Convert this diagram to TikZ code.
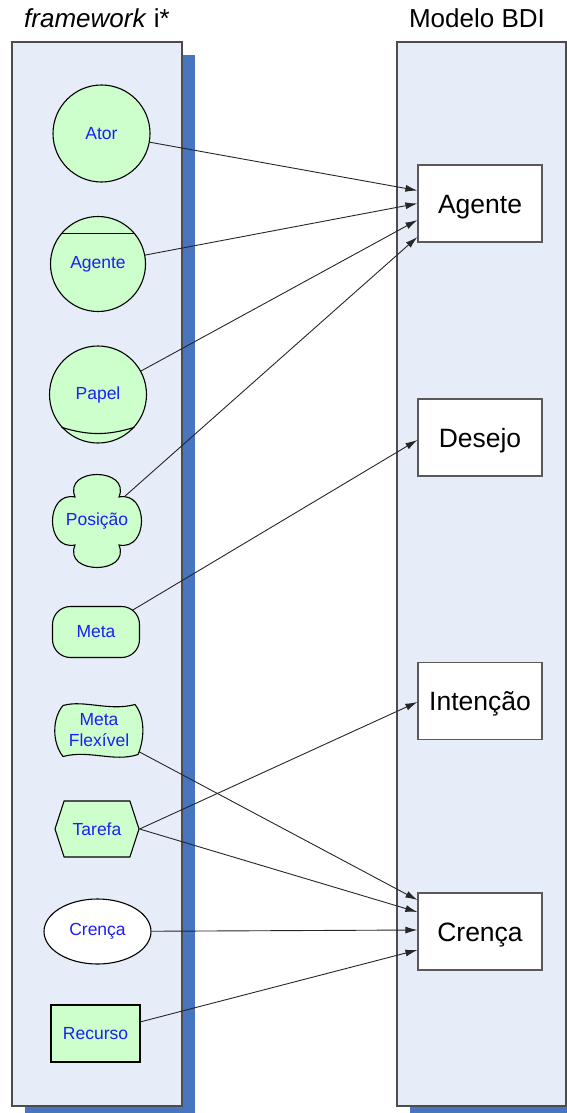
\documentclass[tikz,border=0pt]{standalone}
\usepackage{fontspec}
\setmainfont{Liberation Sans}
\usetikzlibrary{shapes.geometric,shapes.symbols,arrows.meta}
\definecolor{fundoPainel}{RGB}{230,236,248}
\definecolor{sombraAzul}{RGB}{71,117,192}
\definecolor{verdeIstar}{RGB}{204,255,204}
\definecolor{azulIstar}{RGB}{30,30,245}
\pgfdeclarelayer{fundo}
\pgfdeclarelayer{ligacoes}
\pgfsetlayers{fundo,ligacoes,main}
\tikzset{
  forma/.style={draw=black, fill=verdeIstar, line width=1.1pt},
  rotulo/.style={text=azulIstar, font=\fontsize{17.5}{21}\selectfont, align=center},
  caixa/.style={draw=black!65, fill=white, line width=1.2pt, minimum width=124pt, minimum height=77pt, text height=19pt, text depth=0pt, font=\fontsize{26.5}{30}\selectfont},
  seta/.style={->, >={Latex[length=12pt,width=7pt]}, line width=0.9pt, black!85},
  titulo/.style={font=\fontsize{26}{30}\selectfont, anchor=base},
  painel/.style={draw=black!70, fill=fundoPainel, line width=1.2pt}
}
\newcommand{\painelBDI}[4]{\fill[sombraAzul] (#1+13,#2+13) rectangle (#3+13,#4+13); \draw[painel] (#1,#2) rectangle (#3,#4);}
\newcommand{\bdi}[3]{\node[caixa] (#1) at (480,#2) {#3};}
\newcommand{\liga}[3]{\draw[seta] (#1) -- ([yshift=#3]#2.west);}

\begin{document}
\begin{tikzpicture}[x=1pt,y=-1pt]
    \useasboundingbox (0,0) rectangle (567,1113);
    \begin{pgfonlayer}{fundo}
    \painelBDI{12}{42}{182}{1106}
    \painelBDI{397}{42}{566}{1106}
    \end{pgfonlayer}
    \node[titulo] (titI) at (97,28) {\textit{framework} i*};
    \node[titulo] (titB) at (477,28) {Modelo BDI};
    \node[forma, rotulo, circle, minimum size=97pt] (ator) at (101.5,133.5) {Ator};
    \node[forma, rotulo, circle, minimum size=95pt] (agente) at (98,264) {Agente};
    \draw[line width=1.1pt] (agente.39) -- (agente.141);
    \node[forma, rotulo, circle, minimum size=97pt] (papel) at (98,394.5) {Papel};
    \draw[line width=1.1pt] (papel.-138) to[bend right=17] (papel.-42);
    \draw[forma, shift={(97,521)}] (22,-24) .. controls (52,-30) and (52,30) .. (22,24)
      .. controls (34,54) and (-34,54) .. (-22,24) .. controls (-52,30) and (-52,-30) .. (-22,-24)
      .. controls (-34,-54) and (34,-54) .. (22,-24) -- cycle;
    \node[rotulo] (posicao) at (97,521) {Posição};
    \node[forma, rotulo, rounded corners=18pt, minimum width=87pt, minimum height=51pt] (meta) at (96,632) {Meta};
    \draw[forma, shift={(99,730.5)}] (-36,-25) .. controls (-15,-31) and (10,-19) .. (36,-26)
      .. controls (47,-12) and (45,10) .. (39,24) .. controls (15,32) and (-10,19) .. (-36,26)
      .. controls (-47,12) and (-47,-12) .. (-36,-25) -- cycle;
    \node[rotulo] (metaflex) at (99,730.5) {Meta\\Flexível};
    \node[forma, rotulo, signal, signal to=west and east, signal pointer angle=144, minimum width=84pt, minimum height=56pt, inner sep=0pt] (tarefa) at (97,829) {Tarefa};
    \node[rotulo, ellipse, draw=black, fill=white, line width=1.1pt, minimum width=107pt, minimum height=65pt] (crencaI) at (97.5,931.5) {Crença};
    \node[forma, rotulo, minimum width=89pt, minimum height=57pt] (recurso) at (95.5,1033.5) {Recurso};
    \bdi{agenteB}{203.5}{Agente}
    \bdi{desejo}{437.5}{Desejo}
    \bdi{intencao}{701}{Intenção}
    \bdi{crencaB}{931.5}{Crença}
    \begin{pgfonlayer}{ligacoes}
    \liga{ator}{agenteB}{13pt}
    \liga{agente}{agenteB}{0pt}
    \liga{papel}{agenteB}{-16.5pt}
    \liga{posicao}{agenteB}{-33.5pt}
    \liga{meta.center}{desejo}{-2.5pt}
    \liga{tarefa.east}{intencao}{-1pt}
    \liga{metaflex}{crencaB}{31.5pt}
    \liga{tarefa.east}{crencaB}{19.5pt}
    \liga{crencaI}{crencaB}{1.5pt}
    \liga{recurso}{crencaB}{-18.5pt}
    \end{pgfonlayer}
\end{tikzpicture}
\end{document}
